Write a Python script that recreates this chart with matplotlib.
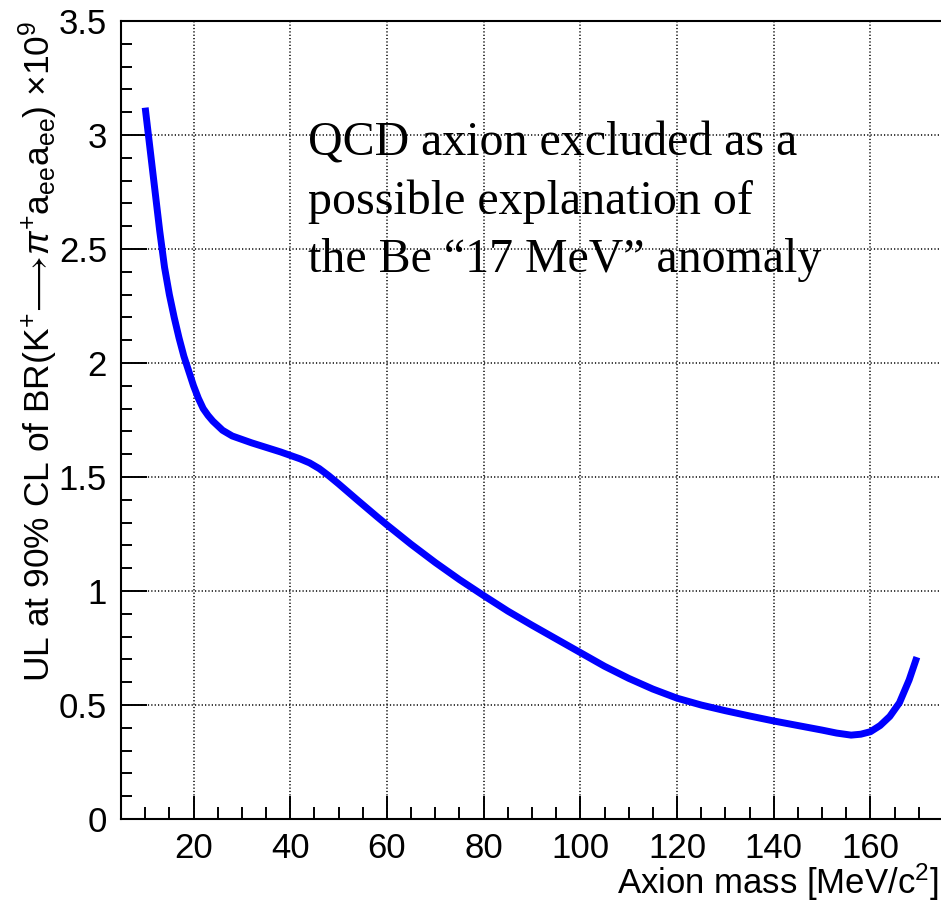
import numpy as np
import matplotlib.pyplot as plt

plt.rcParams['font.family'] = 'Liberation Sans'
plt.rcParams['mathtext.fontset'] = 'custom'
plt.rcParams['mathtext.rm'] = 'Liberation Sans'
plt.rcParams['mathtext.it'] = 'Liberation Sans:italic'
plt.rcParams['mathtext.sf'] = 'Liberation Sans'

# Upper limit curve (x10^9)
mass = [10, 11, 12, 13, 14, 15, 16, 17, 18, 19, 20, 21, 22, 23, 24, 26, 28,
        30, 32, 35, 38, 40, 42, 44, 46, 48, 50, 54, 58, 60, 65, 70, 75, 80,
        85, 90, 95, 100, 105, 110, 115, 120, 125, 130, 135, 140, 145, 150,
        153, 156, 158, 160, 162, 164, 166, 168, 169.6]
ul = [3.12, 2.94, 2.76, 2.58, 2.42, 2.30, 2.20, 2.11, 2.03, 1.965, 1.90, 1.845,
      1.80, 1.77, 1.745, 1.705, 1.68, 1.665, 1.65, 1.63, 1.61, 1.595, 1.58,
      1.562, 1.537, 1.505, 1.47, 1.397, 1.325, 1.29, 1.205, 1.125, 1.05, 0.98,
      0.912, 0.85, 0.79, 0.73, 0.67, 0.617, 0.57, 0.53, 0.50, 0.475, 0.452,
      0.43, 0.41, 0.39, 0.377, 0.368, 0.372, 0.383, 0.41, 0.45, 0.51, 0.61,
      0.71]

xticks = [20, 40, 60, 80, 100, 120, 140, 160]
yticks = [0, 0.5, 1, 1.5, 2, 2.5, 3, 3.5]
ytick_labels = ['0', '0.5', '1', '1.5', '2', '2.5', '3', '3.5']

note = 'QCD axion excluded as a\npossible explanation of\nthe Be \u201c17 MeV\u201d anomaly'

fig = plt.figure(figsize=(9.41, 9.06), dpi=100)
ax = fig.add_axes([0.1286, 0.0960, 0.8735, 0.8808])

ax.plot(mass, ul, color='#0000ff', lw=5, solid_capstyle='butt', zorder=3)

ax.set_xlim(5, 175)
ax.set_ylim(0, 3.5)
ax.set_xticks(xticks)
ax.set_xticks(np.arange(10, 175, 5), minor=True)
ax.set_yticks(yticks)
ax.set_yticklabels(ytick_labels)
ax.set_yticks(np.arange(0, 3.5, 0.1), minor=True)

ax.grid(True, which='major', color='black', linestyle=(0, (0.8, 1.4)), lw=1.1)
ax.tick_params(which='both', direction='in', width=1.4, labelsize=25,
               top=False, right=False)
ax.tick_params(axis='y', which='major', length=18.5, pad=10)
ax.tick_params(axis='y', which='minor', length=8)
ax.tick_params(axis='x', which='major', length=16.5, pad=9)
ax.tick_params(axis='x', which='minor', length=8.5)
for s in ax.spines.values():
    s.set_linewidth(1.5)

ax.set_xlabel('Axion mass [MeV/c$^{2}$]', fontsize=25, loc='right')
ax.set_ylabel('UL at 90% CL of BR(K$^{+}\\!\\longrightarrow\\!\\pi^{+}$a$_{\\mathrm{ee}}$a$_{\\mathrm{ee}}$) $\\times$10$^{9}$',
              fontsize=25.5, loc='top')
ax.xaxis.set_label_coords(0.995, -0.053)
ax.yaxis.set_label_coords(-0.074, 1.0)

ax.text(43.7, 2.40, note, family='Liberation Serif', fontsize=34.5,
        va='baseline', ha='left', linespacing=1.4)

fig.savefig('out.png', dpi=100)
